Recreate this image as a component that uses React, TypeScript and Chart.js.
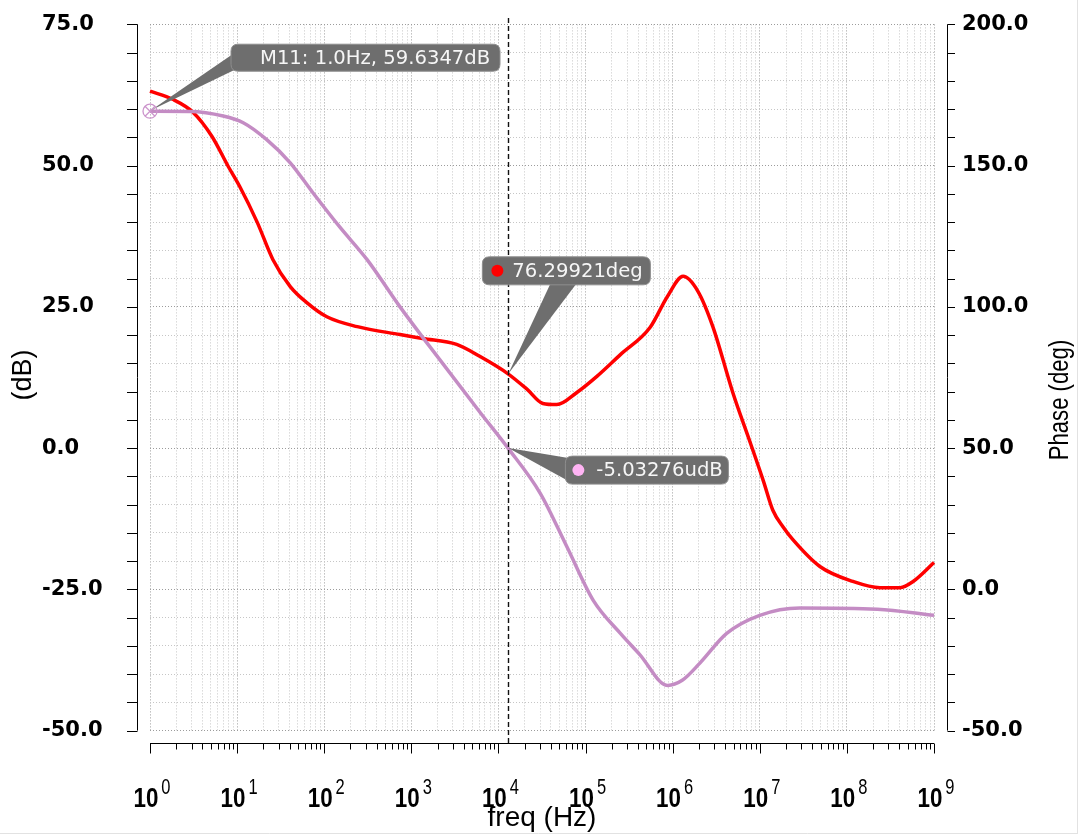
import React, { useEffect, useRef } from 'react';
import { Chart, registerables } from 'chart.js';

Chart.register(...registerables);

// ---- data ----
// magnitude curve: log10(freq) and dB
const magLogFreq = [0, 0.46, 0.84, 1.07, 1.34, 1.61, 1.87, 2.18, 2.49, 2.87, 3.21, 3.79, 4.11, 4.48, 4.79, 5.09, 5.4, 5.62, 5.94, 6.11, 6.31, 6.62, 7.0, 7.46, 8.35, 9.0];
const magDb = [59.63, 59.6, 58.8, 57.6, 54.6, 50.5, 45.2, 39.1, 33.4, 25.0, 18.0, 6.3, 0.0, -8.0, -17.6, -27.0, -32.8, -36.5, -42.0, -41.1, -38.1, -32.8, -29.6, -28.3, -28.5, -29.6];

// phase curve: log10(freq) and degrees
const phaseLogFreq = [0, 0.26, 0.49, 0.71, 0.9, 1.03, 1.23, 1.41, 1.61, 1.8, 2.03, 2.38, 2.87, 3.13, 3.52, 3.79, 4.11, 4.33, 4.51, 4.67, 4.9, 5.13, 5.4, 5.74, 5.94, 6.12, 6.29, 6.46, 6.69, 6.89, 7.04, 7.15, 7.27, 7.38, 7.69, 8.07, 8.38, 8.61, 8.76, 9.0];
const phaseDeg = [176.4, 173.5, 169.0, 160.4, 149.6, 142.6, 130.0, 116.8, 107.2, 101.5, 96.5, 93.0, 90.2, 88.8, 86.7, 82.4, 76.3, 70.8, 65.8, 65.4, 69.7, 75.4, 83.1, 92.7, 103.7, 110.8, 105.5, 93.1, 69.7, 52.0, 38.5, 28.0, 22.0, 17.6, 8.1, 2.8, 0.6, 0.6, 2.8, 9.5];

// axes
const decadeExponents = [0, 1, 2, 3, 4, 5, 6, 7, 8, 9];
const dbRange = [-50, 75];
const phaseRange = [-50, 200];
const dbLabelStep = 25;
const dbMinorStep = 5;
const phaseLabelStep = 50;
const phaseMinorStep = 10;

// markers
const m11Freq = 1.0;
const m11Db = 59.6347;
const cursorFreq = 13000;
const cursorPhase = 76.29921;
const cursorDb = -5.03276e-6;
const markerTexts = ['M11: 1.0Hz, 59.6347dB', '76.29921deg', '-5.03276udB'];

const xGridValues: number[] = [];
decadeExponents.forEach((e) => {
  if (e === 9) {
    xGridValues.push(1e9);
  } else {
    for (let m = 1; m <= 9; m++) xGridValues.push(m * Math.pow(10, e));
  }
});

function narrowText(ctx: CanvasRenderingContext2D, text: string, x: number, y: number, font: string, sx: number, align: CanvasTextAlign = 'left', baseline: CanvasTextBaseline = 'alphabetic', rot = 0) {
  ctx.save();
  ctx.translate(x, y);
  if (rot) ctx.rotate(rot);
  ctx.scale(sx, 1);
  ctx.font = font;
  ctx.textAlign = align;
  ctx.textBaseline = baseline;
  ctx.fillText(text, 0, 0);
  ctx.restore();
}

function roundRect(ctx: CanvasRenderingContext2D, x: number, y: number, w: number, h: number, r: number) {
  ctx.beginPath();
  ctx.moveTo(x + r, y);
  ctx.lineTo(x + w - r, y);
  ctx.quadraticCurveTo(x + w, y, x + w, y + r);
  ctx.lineTo(x + w, y + h - r);
  ctx.quadraticCurveTo(x + w, y + h, x + w - r, y + h);
  ctx.lineTo(x + r, y + h);
  ctx.quadraticCurveTo(x, y + h, x, y + h - r);
  ctx.lineTo(x, y + r);
  ctx.quadraticCurveTo(x, y, x + r, y);
  ctx.closePath();
}

const BOX_FILL = '#6e6e6e';
const BOX_STROKE = '#8e8e8e';

function drawLabel(ctx: CanvasRenderingContext2D, tip: [number, number], base: [number, number][], box: [number, number, number, number], text: string, textX: number, dot?: string, dotX?: number) {
  ctx.save();
  ctx.fillStyle = BOX_FILL;
  ctx.beginPath();
  ctx.moveTo(tip[0], tip[1]);
  ctx.lineTo(base[0][0], base[0][1]);
  ctx.lineTo(base[1][0], base[1][1]);
  ctx.closePath();
  ctx.fill();
  roundRect(ctx, box[0], box[1], box[2], box[3], 7);
  ctx.fill();
  ctx.strokeStyle = BOX_STROKE;
  ctx.lineWidth = 1;
  ctx.stroke();
  if (dot && dotX !== undefined) {
    ctx.fillStyle = dot;
    ctx.beginPath();
    ctx.arc(dotX, box[1] + box[3] / 2, 6, 0, Math.PI * 2);
    ctx.fill();
  }
  ctx.fillStyle = '#f6f6f6';
  ctx.font = '19.6px "DejaVu Sans"';
  ctx.textAlign = 'left';
  ctx.textBaseline = 'middle';
  ctx.fillText(text, textX, box[1] + box[3] / 2 + 1);
  ctx.restore();
}

const overlay = {
  id: 'overlay',
  afterDraw(chart: any) {
    const { ctx, scales } = chart;
    const x = scales.x;
    const y = scales.y;
    const y1 = scales.y1;
    ctx.save();
    ctx.strokeStyle = '#000';
    ctx.lineWidth = 1;
    const line = (a: number, b: number, c: number, d: number) => {
      ctx.beginPath();
      ctx.moveTo(a, b);
      ctx.lineTo(c, d);
      ctx.stroke();
    };
    // left axis
    const lx = 137.5;
    line(lx, y.getPixelForValue(dbRange[1]), lx, y.getPixelForValue(dbRange[0]));
    for (let v = dbRange[0]; v <= dbRange[1]; v += dbMinorStep) {
      const py = Math.round(y.getPixelForValue(v)) + 0.5;
      line(127, py, lx, py);
    }
    // right axis
    const rx = 947.5;
    line(rx, y1.getPixelForValue(phaseRange[1]), rx, y1.getPixelForValue(phaseRange[0]));
    for (let v = phaseRange[0]; v <= phaseRange[1]; v += phaseMinorStep) {
      const py = Math.round(y1.getPixelForValue(v)) + 0.5;
      line(rx, py, 955, py);
    }
    // bottom axis
    const by = 743.5;
    const x0 = x.getPixelForValue(1);
    const x9 = x.getPixelForValue(1e9);
    line(x0, by, x9, by);
    xGridValues.forEach((v) => {
      const px = Math.round(x.getPixelForValue(v)) + 0.5;
      const isDec = Math.abs(Math.log10(v) - Math.round(Math.log10(v))) < 1e-9;
      line(px, by, px, by + (isDec ? 10 : 6));
    });
    // x tick labels 10^n
    ctx.fillStyle = '#000';
    decadeExponents.forEach((n) => {
      const px = x.getPixelForValue(Math.pow(10, n));
      const baseFont = 'bold 28px "Liberation Sans"';
      const expFont = '22px "Liberation Sans"';
      ctx.font = baseFont;
      const wb = ctx.measureText('10').width * 0.8;
      ctx.font = expFont;
      const we = ctx.measureText(String(n)).width * 0.75;
      const start = px - (wb + 3 + we) / 2 + 2;
      narrowText(ctx, '10', start, 807, baseFont, 0.8);
      narrowText(ctx, String(n), start + wb + 3, 794, expFont, 0.75);
    });
    // axis titles
    narrowText(ctx, '(dB)', 24, 375, '27px "Liberation Sans"', 1, 'center', 'middle', -Math.PI / 2);
    narrowText(ctx, 'Phase (deg)', 1061, 400, '27px "Liberation Sans"', 0.82, 'center', 'middle', -Math.PI / 2);

    // cursor line
    const cx = Math.round(x.getPixelForValue(cursorFreq)) + 0.5;
    ctx.save();
    ctx.setLineDash([5, 3]);
    ctx.lineWidth = 1.4;
    ctx.strokeStyle = '#111';
    line(cx, 18, cx, 743);
    ctx.restore();

    // M11 marker
    const p0x = x.getPixelForValue(m11Freq);
    const p0y = y.getPixelForValue(m11Db);
    drawLabel(ctx, [p0x + 1, p0y - 1], [[p0x + 84, p0y - 58], [p0x + 90, p0y - 44]], [p0x + 81, p0y - 67, 269, 27], markerTexts[0], p0x + 110);
    ctx.save();
    ctx.strokeStyle = '#cc94cc';
    ctx.lineWidth = 1.3;
    ctx.beginPath();
    ctx.arc(p0x, p0y, 7, 0, Math.PI * 2);
    ctx.stroke();
    line(p0x - 5, p0y - 5, p0x + 5, p0y + 5);
    line(p0x - 5, p0y + 5, p0x + 5, p0y - 5);
    ctx.restore();

    // phase marker
    const p1x = x.getPixelForValue(cursorFreq);
    const p1y = y1.getPixelForValue(cursorPhase);
    drawLabel(ctx, [p1x, p1y], [[p1x + 42, p1y - 90], [p1x + 68, p1y - 90]], [p1x - 26, p1y - 117, 168, 28], markerTexts[1], p1x + 4, '#ff0000', p1x - 11);

    // dB marker
    const p2x = x.getPixelForValue(cursorFreq);
    const p2y = y.getPixelForValue(cursorDb);
    drawLabel(ctx, [p2x, p2y], [[p2x + 60, p2y + 10], [p2x + 60, p2y + 33]], [p2x + 57, p2y + 8, 163, 28], markerTexts[2], p2x + 88, '#ffb4f4', p2x + 70);

    // faint frame
    ctx.strokeStyle = '#e2e2e2';
    line(0, 833.5, 1077, 833.5);
    line(1077.5, 0, 1077.5, 834);
    ctx.restore();
  },
};

export default function App() {
  const ref = useRef<HTMLCanvasElement>(null);
  useEffect(() => {
    if (!ref.current) return;
    const gridColor = (major: boolean) => (major ? '#9c9c9c' : '#c6c6c6');
    const chart = new Chart(ref.current, {
      type: 'line',
      data: {
        datasets: [
          {
            label: 'dB',
            data: magLogFreq.map((e, i) => ({ x: Math.pow(10, e), y: magDb[i] })),
            yAxisID: 'y',
            borderColor: '#c48cc4',
            borderWidth: 3.5,
            pointRadius: 0,
            cubicInterpolationMode: 'monotone',
            borderJoinStyle: 'round',
            clip: 4,
          },
          {
            label: 'Phase',
            data: phaseLogFreq.map((e, i) => ({ x: Math.pow(10, e), y: phaseDeg[i] })),
            yAxisID: 'y1',
            borderColor: '#ff0000',
            borderWidth: 3.5,
            pointRadius: 0,
            cubicInterpolationMode: 'monotone',
            borderJoinStyle: 'round',
            clip: 4,
          },
        ],
      },
      options: {
        responsive: false,
        animation: false,
        devicePixelRatio: 1,
        layout: { padding: { left: 42, top: 24.4, right: 0, bottom: 0 } },
        plugins: { legend: { display: false }, tooltip: { enabled: false } },
        scales: {
          x: {
            type: 'logarithmic',
            position: 'bottom',
            min: 1,
            max: 1e9,
            afterBuildTicks: (s: any) => {
              s.ticks = xGridValues.map((v) => ({ value: v }));
            },
            afterFit: (s: any) => {
              s.height = 104.4;
            },
            ticks: { display: false, autoSkip: false },
            grid: {
              drawTicks: false,
              lineWidth: 1,
              color: (c: any) => {
                const v = c.tick ? c.tick.value : 1;
                const l = Math.log10(v);
                return gridColor(Math.abs(l - Math.round(l)) < 1e-9);
              },
            },
            border: { display: false, dash: [1, 2] },
            title: {
              display: true,
              text: 'freq (Hz)',
              color: '#000',
              font: { family: 'Liberation Sans', size: 28 },
              padding: { top: 0, bottom: 0 },
            },
          },
          y: {
            position: 'left',
            min: dbRange[0],
            max: dbRange[1],
            afterFit: (s: any) => {
              s.width = 108;
            },
            ticks: {
              stepSize: dbMinorStep,
              autoSkip: false,
              crossAlign: 'far',
              padding: 0,
              color: '#000',
              font: { family: 'DejaVu Sans', size: 21, weight: 'bold' },
              callback: (v: any) => (Math.round(Number(v)) % dbLabelStep === 0 ? Number(v).toFixed(1) : ''),
            },
            grid: {
              drawTicks: false,
              lineWidth: 1,
              color: (c: any) => gridColor(c.tick ? Math.round(c.tick.value) % dbLabelStep === 0 : false),
            },
            border: { display: false, dash: [1, 2] },
          },
          y1: {
            position: 'right',
            min: phaseRange[0],
            max: phaseRange[1],
            afterFit: (s: any) => {
              s.width = 146;
            },
            ticks: {
              stepSize: phaseLabelStep,
              padding: 0,
              color: '#000',
              font: { family: 'DejaVu Sans', size: 21, weight: 'bold' },
              callback: (v: any) => Number(v).toFixed(1),
            },
            grid: { drawOnChartArea: false, drawTicks: true, tickLength: 28, tickColor: 'rgba(0,0,0,0)' },
            border: { display: false },
          },
        },
      },
      plugins: [overlay],
    } as any);
    return () => chart.destroy();
  }, []);
  return (
    <div style={{ position: 'fixed', left: 0, top: 0, width: 1080, height: 835, background: '#fff' }}>
      <canvas ref={ref} width={1080} height={835} style={{ display: 'block', width: 1080, height: 835 }} />
    </div>
  );
}
